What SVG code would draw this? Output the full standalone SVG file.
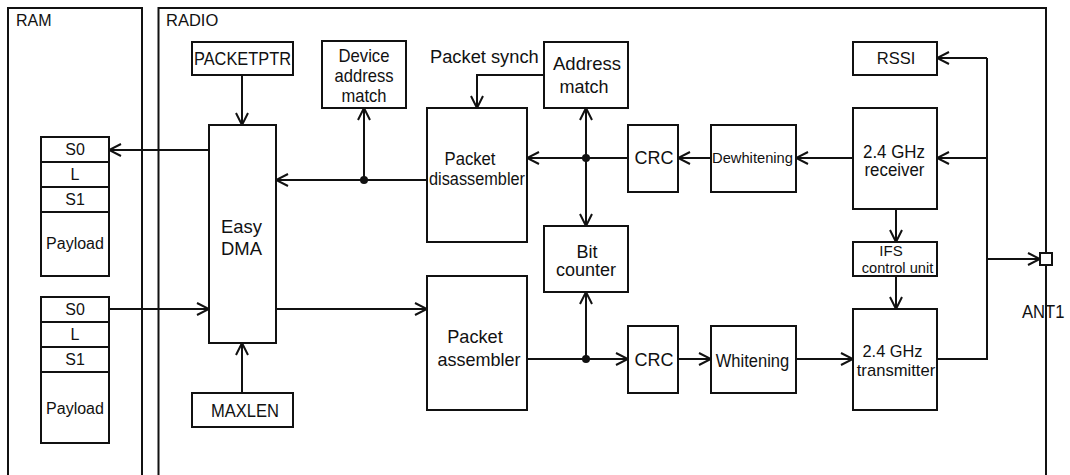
<svg xmlns="http://www.w3.org/2000/svg" width="1070" height="475" viewBox="0 0 1070 475">
  <style>
    .box { fill: #fff; stroke: #111; stroke-width: 2; }
    .frame { fill: none; stroke: #111; stroke-width: 2; }
    .wire { fill: none; stroke: #111; stroke-width: 2; }
    .wire-a { fill: none; stroke: #111; stroke-width: 2; marker-end: url(#arr); }
    .dot { fill: #111; }
    text { font-family: "Liberation Sans", Arial, sans-serif; fill: #111; font-size: 16px; }
    .c { text-anchor: middle; }
  </style>
  <defs>
    <marker id="arr" viewBox="-14 -8 16 16" refX="0" refY="0" markerWidth="16" markerHeight="16" orient="auto" markerUnits="userSpaceOnUse">
      <path d="M-12,-6 L0,0 L-12,6" fill="none" stroke="#111" stroke-width="2"/>
    </marker>
  </defs>

  <!-- outer frames, open at the bottom -->
  <g id="ram">
    <path class="frame" d="M8,476 V8 H142 V476"/>
    <text x="16" y="26">RAM</text>
  </g>
  <g id="radio">
    <path class="frame" d="M158.5,476 V8 H1046 V476"/>
    <text x="166" y="26" style="font-size:16.5px">RADIO</text>
  </g>

  <!-- connectors -->
  <g id="connectors">
    <path class="wire-a" d="M242,75 V125"/>
    <path class="wire-a" d="M242,393 V343"/>
    <path class="wire-a" d="M209,150 H109"/>
    <path class="wire-a" d="M109,309 H209"/>
    <path class="wire-a" d="M276,309 H427"/>
    <path class="wire-a" d="M427,180 H276"/>
    <path class="wire-a" d="M364,180 V108"/>
    <path class="wire-a" d="M544,75 H477 V108"/>
    <path class="wire-a" d="M586,158 V108"/>
    <path class="wire-a" d="M586,158 V226"/>
    <path class="wire-a" d="M628,158 H527"/>
    <path class="wire-a" d="M711,158 H678"/>
    <path class="wire-a" d="M853,158 H796"/>
    <path class="wire-a" d="M527,359 H628"/>
    <path class="wire-a" d="M586,359 V292"/>
    <path class="wire-a" d="M678,359 H711"/>
    <path class="wire-a" d="M796,359 H853"/>
    <path class="wire-a" d="M896,209 V242"/>
    <path class="wire-a" d="M896,276 V309"/>
    <path class="wire" d="M937,359 H987 V58"/>
    <path class="wire-a" d="M987,58 H937"/>
    <path class="wire-a" d="M987,158 H937"/>
    <path class="wire-a" d="M987,259 H1040"/>
    <circle class="dot" cx="364" cy="180" r="4"/>
    <circle class="dot" cx="586" cy="158" r="4"/>
    <circle class="dot" cx="586" cy="359" r="4"/>
  </g>

  <!-- packet buffers in RAM -->
  <g id="rx-buffer">
    <rect class="box" x="41" y="137" width="68" height="25"/>
    <rect class="box" x="41" y="162" width="68" height="25"/>
    <rect class="box" x="41" y="187" width="68" height="25"/>
    <rect class="box" x="41" y="212" width="68" height="64"/>
    <text class="c" x="75" y="155">S0</text>
    <text class="c" x="75" y="180">L</text>
    <text class="c" x="75" y="205">S1</text>
    <text class="c" x="75" y="249">Payload</text>
  </g>
  <g id="tx-buffer">
    <rect class="box" x="41" y="297" width="68" height="25"/>
    <rect class="box" x="41" y="322" width="68" height="25"/>
    <rect class="box" x="41" y="347" width="68" height="25"/>
    <rect class="box" x="41" y="372" width="68" height="71"/>
    <text class="c" x="75" y="315">S0</text>
    <text class="c" x="75" y="340">L</text>
    <text class="c" x="75" y="365">S1</text>
    <text class="c" x="75" y="414">Payload</text>
  </g>

  <!-- RADIO blocks -->
  <g id="packetptr">
    <rect class="box" x="192" y="42" width="101" height="33"/>
    <text class="c" x="242.5" y="65" style="font-size:19px" textLength="97" lengthAdjust="spacingAndGlyphs">PACKETPTR</text>
  </g>
  <g id="maxlen">
    <rect class="box" x="192" y="393" width="101" height="34"/>
    <text class="c" x="245" y="416.5" style="font-size:17.5px" textLength="68" lengthAdjust="spacingAndGlyphs">MAXLEN</text>
  </g>
  <g id="easydma">
    <rect class="box" x="209" y="125" width="67" height="218"/>
    <text class="c" x="241.5" y="232.5" style="font-size:18.5px" textLength="41" lengthAdjust="spacingAndGlyphs">Easy</text>
    <text class="c" x="241.5" y="254.5" style="font-size:18.5px" textLength="41" lengthAdjust="spacingAndGlyphs">DMA</text>
  </g>
  <g id="device-address-match">
    <rect class="box" x="322" y="41" width="84" height="67"/>
    <text class="c" x="364" y="62" style="font-size:17.8px" textLength="51" lengthAdjust="spacingAndGlyphs">Device</text>
    <text class="c" x="364" y="82" style="font-size:17.8px" textLength="59" lengthAdjust="spacingAndGlyphs">address</text>
    <text class="c" x="364" y="102" style="font-size:17.8px" textLength="45" lengthAdjust="spacingAndGlyphs">match</text>
  </g>
  <g id="packet-synch-label">
    <text x="430" y="63" style="font-size:18.3px">Packet synch</text>
  </g>
  <g id="packet-disassembler">
    <rect class="box" x="427" y="108" width="100" height="134"/>
    <text class="c" x="470" y="165" style="font-size:17.5px" textLength="51" lengthAdjust="spacingAndGlyphs">Packet</text>
    <text class="c" x="477" y="185" style="font-size:17.5px" textLength="96" lengthAdjust="spacingAndGlyphs">disassembler</text>
  </g>
  <g id="address-match">
    <rect class="box" x="544" y="42" width="84" height="66"/>
    <text class="c" x="587" y="70" style="font-size:19px" textLength="68" lengthAdjust="spacingAndGlyphs">Address</text>
    <text class="c" x="584" y="92.5" style="font-size:19px" textLength="49" lengthAdjust="spacingAndGlyphs">match</text>
  </g>
  <g id="bit-counter">
    <rect class="box" x="544" y="226" width="84" height="66"/>
    <text class="c" x="587" y="258" style="font-size:18px">Bit</text>
    <text class="c" x="586" y="276" style="font-size:18px">counter</text>
  </g>
  <g id="packet-assembler">
    <rect class="box" x="427" y="276" width="100" height="134"/>
    <text class="c" x="475" y="343" style="font-size:19px" textLength="55.5" lengthAdjust="spacingAndGlyphs">Packet</text>
    <text class="c" x="479" y="365.5" style="font-size:19px" textLength="83" lengthAdjust="spacingAndGlyphs">assembler</text>
  </g>
  <g id="crc-rx">
    <rect class="box" x="628" y="125" width="50" height="67"/>
    <text class="c" x="654" y="164" style="font-size:18px">CRC</text>
  </g>
  <g id="crc-tx">
    <rect class="box" x="628" y="326" width="50" height="67"/>
    <text class="c" x="654" y="366" style="font-size:18px">CRC</text>
  </g>
  <g id="dewhitening">
    <rect class="box" x="711" y="125" width="85" height="67"/>
    <text class="c" x="752.5" y="162.5" style="font-size:15.5px" textLength="81" lengthAdjust="spacingAndGlyphs">Dewhitening</text>
  </g>
  <g id="whitening">
    <rect class="box" x="711" y="326" width="85" height="67"/>
    <text class="c" x="752.5" y="367" style="font-size:18px" textLength="73.5" lengthAdjust="spacingAndGlyphs">Whitening</text>
  </g>
  <g id="rssi">
    <rect class="box" x="853" y="42" width="84" height="33"/>
    <text class="c" x="896" y="63.5" style="font-size:16.5px">RSSI</text>
  </g>
  <g id="receiver">
    <rect class="box" x="853" y="108" width="84" height="101"/>
    <text class="c" x="894" y="157.5" style="font-size:17.5px" textLength="62" lengthAdjust="spacingAndGlyphs">2.4 GHz</text>
    <text class="c" x="894.5" y="175.5" style="font-size:17.5px" textLength="60" lengthAdjust="spacingAndGlyphs">receiver</text>
  </g>
  <g id="ifs-control-unit">
    <rect class="box" x="853" y="242" width="84" height="34"/>
    <text class="c" x="891" y="256" style="font-size:15px">IFS</text>
    <text class="c" x="897.5" y="273" style="font-size:15px" textLength="71.5" lengthAdjust="spacingAndGlyphs">control unit</text>
  </g>
  <g id="transmitter">
    <rect class="box" x="853" y="309" width="84" height="101"/>
    <text class="c" x="892.5" y="357" style="font-size:17px" textLength="60" lengthAdjust="spacingAndGlyphs">2.4 GHz</text>
    <text class="c" x="896" y="376" style="font-size:17px" textLength="78.5" lengthAdjust="spacingAndGlyphs">transmitter</text>
  </g>
  <g id="ant1">
    <rect class="box" x="1040" y="253" width="12" height="12"/>
    <text x="1022" y="318" style="font-size:18.5px" textLength="42.5" lengthAdjust="spacingAndGlyphs">ANT1</text>
  </g>
</svg>
